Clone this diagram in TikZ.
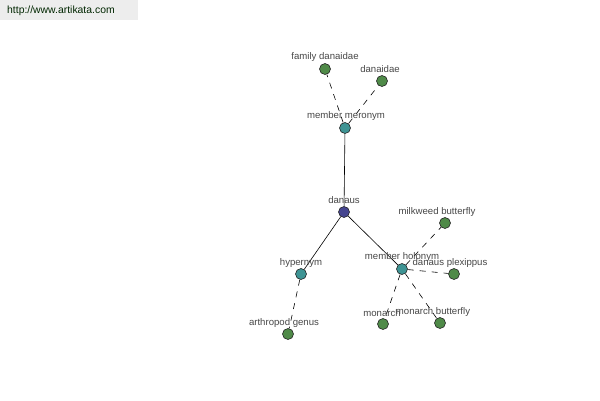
\documentclass[tikz,border=0pt]{standalone}
\usepackage{fontspec}
\setmainfont{Liberation Sans}
\begin{document}
\begin{tikzpicture}[x=1pt,y=-1pt,
  dot/.style={circle,draw=black!85,line width=0.6pt,inner sep=0pt,minimum size=11pt},
  leaf/.style={dot,fill=leafgreen},
  rel/.style={dot,fill=relteal},
  core/.style={dot,fill=coreblue},
  lbl/.style={font=\fontsize{9.6}{10}\selectfont,text=black!72,inner sep=0pt},
  solidedge/.style={draw=black,line width=0.6pt},
  dashedge/.style={draw=black,line width=0.6pt,dash pattern=on 6pt off 6pt}]
\definecolor{leafgreen}{HTML}{4F8A48}
\definecolor{relteal}{HTML}{3E9494}
\definecolor{coreblue}{HTML}{45458F}
\useasboundingbox (0,0) rectangle (600,400);
\fill[white] (0,0) rectangle (600,400);
\fill[black!7] (0,0) rectangle (138,20);
\node[font=\fontsize{10.4}{11}\selectfont,text=black!70!green!50!black,anchor=west,inner sep=0pt] (wm) at (7,11) {http://www.artikata.com};

\node[core] (danaus) at (344,212) {};
\node[rel] (mero) at (345,128) {};
\node[rel] (hyper) at (301,274) {};
\node[rel] (holo) at (402,269) {};
\node[leaf] (fam) at (325,69) {};
\node[leaf] (danaidae) at (382,81) {};
\node[leaf] (arth) at (288,334) {};
\node[leaf] (milk) at (445,223) {};
\node[leaf] (plex) at (454,274) {};
\node[leaf] (monarch) at (383,324) {};
\node[leaf] (monbut) at (440,323) {};

\draw[solidedge] (danaus) -- (mero);
\draw[solidedge] (danaus) -- (hyper);
\draw[solidedge] (danaus) -- (holo);
\draw[dashedge] (mero) -- (fam);
\draw[dashedge] (mero) -- (danaidae);
\draw[dashedge] (hyper) -- (arth);
\draw[dashedge] (holo) -- (milk);
\draw[dashedge] (holo) -- (plex);
\draw[dashedge] (holo) -- (monarch);
\draw[dashedge] (holo) -- (monbut);

\node[lbl] (lfam) at (325,57) {family danaidae};
\node[lbl] (ldanaidae) at (380,69) {danaidae};
\node[lbl] (lmero) at (346,116) {member meronym};
\node[lbl] (ldanaus) at (344,200) {danaus};
\node[lbl] (lmilk) at (437,212) {milkweed butterfly};
\node[lbl] (lholo) at (402,257) {member holonym};
\node[lbl] (lplex) at (450,263) {danaus plexippus};
\node[lbl] (lhyper) at (301,263) {hypernym};
\node[lbl] (larth) at (284,323) {arthropod genus};
\node[lbl] (lmonarch) at (382,313) {monarch};
\node[lbl] (lmonbut) at (433,312) {monarch butterfly};
\end{tikzpicture}
\end{document}
